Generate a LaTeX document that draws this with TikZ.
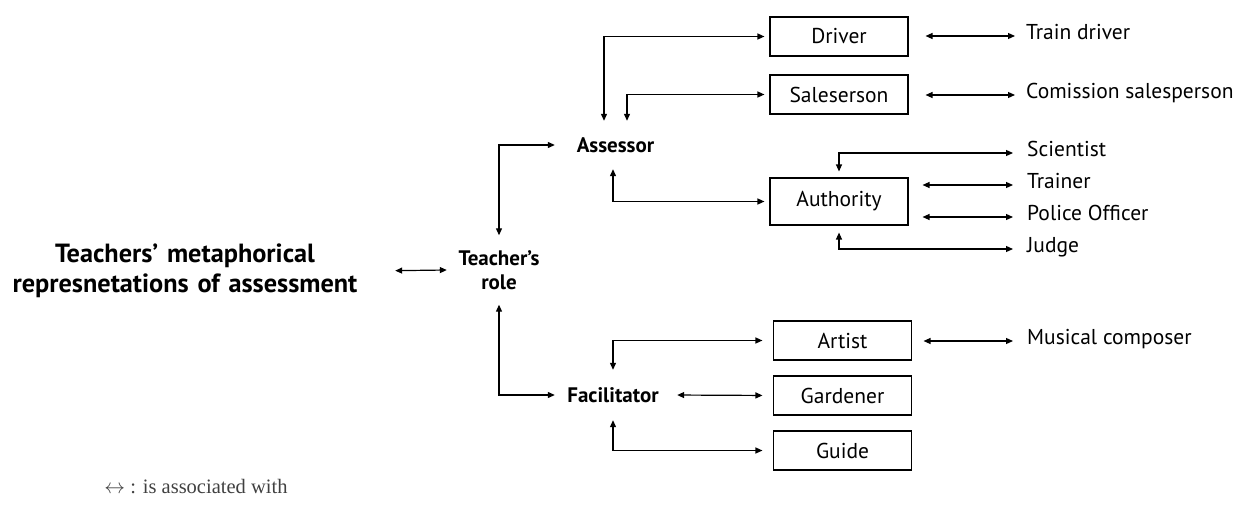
\documentclass[tikz,border=0pt]{standalone}
\usepackage{fontspec}
\setmainfont{PT Sans}
\newfontfamily\legendfont{Liberation Serif}
\usetikzlibrary{arrows.meta}
\begin{document}
\begin{tikzpicture}[x=1pt,y=-1pt,
  conn/.style={line width=1.2pt,{Triangle[length=7pt,width=6pt]}-{Triangle[length=7pt,width=6pt]}},
  box/.style={draw,line width=1.1pt,minimum width=138pt,minimum height=39pt,inner sep=0pt,font=\fontsize{21.5}{24}\selectfont},
  lbl/.style={anchor=west,inner sep=0pt,text height=1em,text depth=0.28em,font=\fontsize{21.5}{24}\selectfont},
  hub/.style={inner sep=0pt,align=center,font=\bfseries\fontsize{21}{24}\selectfont}]
\useasboundingbox (0,0) rectangle (1239,508);
% title and hubs
\node[inner sep=0pt,text width=370pt,align=center,font=\bfseries\fontsize{26.3}{30}\selectfont] (title) at (185,271) {Teachers’ metaphorical\\represnetations of assessment};
\node[hub,minimum width=104pt,minimum height=69pt] (role) at (499,270) {Teacher’s\\role};
\node[hub,minimum width=121pt,minimum height=48pt] (assessor) at (615.5,145) {Assessor};
\node[hub,minimum width=116pt,minimum height=50pt] (facil) at (613,395) {Facilitator};
% boxes
\node[box] (driver) at (839,36.5) {Driver};
\node[box] (sales) at (839,94.5) {Saleserson};
\node[box,minimum height=47pt] (auth) at (839,201.5) {Authority};
\node[box] (artist) at (842.5,340.5) {Artist};
\node[box] (garden) at (842.5,395.5) {Gardener};
\node[box] (guide) at (842.5,450.5) {Guide};
% right labels
\node[lbl] (traindrv) at (1026,36) {Train driver};
\node[lbl] (comsales) at (1026,95) {Comission salesperson};
\node[lbl] (sci) at (1027,153) {Scientist};
\node[lbl] (trainer) at (1027,185) {Trainer};
\node[lbl] (police) at (1027,217) {Police Officer};
\node[lbl] (judge) at (1027,249) {Judge};
\node[lbl] (composer) at (1027,341) {Musical composer};
% legend
\node[inner sep=0pt,text=black!75,font=\legendfont\fontsize{20.5}{24}\selectfont] (legend) at (196,487) {$\leftrightarrow$ : is associated with};
% connectors
\draw[conn,shorten <=25pt] (title.east) -- (role.west);
\draw[conn] (role.north) |- (assessor.west);
\draw[conn] (role.south) |- (facil.west);
\draw[conn,shorten >=5pt] ([xshift=-11.5pt]assessor.north) |- (driver.west);
\draw[conn,shorten >=5pt] ([xshift=11.5pt]assessor.north) |- (sales.west);
\draw[conn,shorten >=5pt] ([xshift=-2.5pt]assessor.south) |- (auth.west);
\draw[conn,shorten >=10.5pt] (facil.north) |- (artist.west);
\draw[conn,shorten <=6pt,shorten >=10.5pt] (facil.east) -- (garden.west);
\draw[conn,shorten >=10.5pt] (facil.south) |- (guide.west);
\draw[conn,shorten <=17pt,shorten >=11pt] (traindrv.west -| driver.east) -- (traindrv.west);
\draw[conn,shorten <=17pt,shorten >=11pt] (comsales.west -| sales.east) -- (comsales.west);
\draw[conn,shorten <=6pt,shorten >=14pt] (auth.north) |- (sci.west);
\draw[conn,shorten <=14pt,shorten >=14pt] (trainer.west -| auth.east) -- (trainer.west);
\draw[conn,shorten <=14pt,shorten >=14pt] (police.west -| auth.east) -- (police.west);
\draw[conn,shorten <=7pt,shorten >=14pt] (auth.south) |- (judge.west);
\draw[conn,shorten <=11.5pt,shorten >=14pt] (composer.west -| artist.east) -- (composer.west);
\end{tikzpicture}
\end{document}
